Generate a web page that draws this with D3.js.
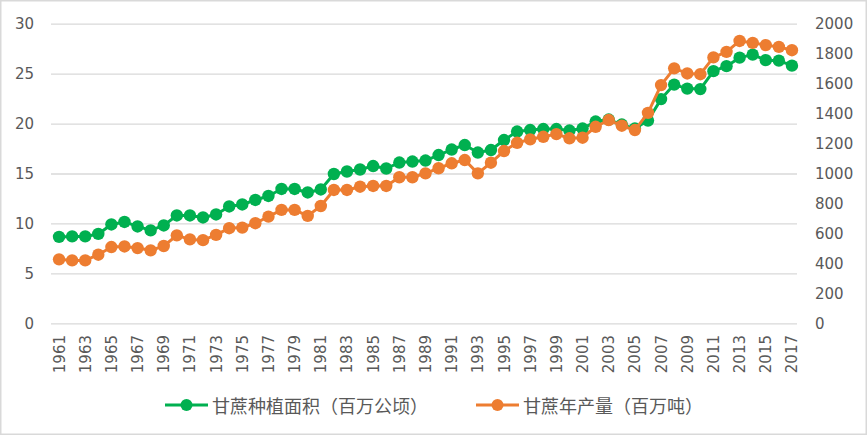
<!DOCTYPE html>
<html>
<head>
<meta charset="utf-8">
<script src="https://cdn.jsdelivr.net/npm/d3@7"></script>
<style>
  body { margin: 0; background: #fff; }
  text { font-family: "DejaVu Sans", sans-serif; fill: #595959; }
  .leg { font-family: "Noto Sans CJK SC", sans-serif; }
</style>
</head>
<body>
<div id="chart"></div>
<script>
// annees 1961..2017
const years = d3.range(1961, 2018);
// superficie (millions ha), axe gauche
const area = [8.65, 8.7, 8.7, 8.95, 9.9, 10.15, 9.7, 9.3, 9.8, 10.8,
  10.8, 10.6, 10.9, 11.7, 11.9, 12.35, 12.75, 13.45, 13.45, 13.1,
  13.4, 14.95, 15.2, 15.4, 15.75, 15.5, 16.1, 16.2, 16.3, 16.85,
  17.4, 17.85, 17.1, 17.35, 18.35, 19.2, 19.35, 19.45, 19.45, 19.3,
  19.5, 20.2, 20.4, 19.9, 19.5, 20.3, 22.45, 23.9, 23.5, 23.45,
  25.25, 25.75, 26.6, 26.9, 26.35, 26.3, 25.8];
// production (millions t), axe droit
const prod = [427, 420, 420, 458, 509, 513, 502, 487, 516, 587,
  560, 555, 590, 635, 639, 668, 712, 757, 757, 717,
  783, 890, 890, 912, 917, 917, 975, 975, 1001, 1035,
  1068, 1090, 1001, 1072, 1150, 1205, 1228, 1245, 1263, 1235,
  1239, 1312, 1357, 1319, 1290, 1405, 1590, 1702, 1668, 1663,
  1775, 1812, 1885, 1872, 1857, 1845, 1823];
const leftTicks = [0, 5, 10, 15, 20, 25, 30];
const rightTicks = d3.range(0, 2001, 200);
const names = ["甘蔗种植面积（百万公顷）", "甘蔗年产量（百万吨）"];
const colors = ["#00B050", "#ED7D31"];

const W = 867, H = 436;
const X0 = 51, X1 = 797, YT = 23.7, YB = 323.3;

const svg = d3.select("#chart").append("svg").attr("width", W).attr("height", H);

// bordure du graphique
svg.append("rect").attr("x", 0.75).attr("y", 0.75).attr("width", W - 1.5).attr("height", H - 2.5)
  .attr("fill", "#fff").attr("stroke", "#d9d9d9").attr("stroke-width", 1.5);

const x = d3.scaleBand().domain(years).range([X0 + 1.5, X1 + 1.5]);
const cx = d => x(d) + x.bandwidth() / 2;
const yL = d3.scaleLinear().domain([0, 30]).range([YB, YT]);
const yR = d3.scaleLinear().domain([0, 2000]).range([YB, YT]);

// grille
const grid = svg.append("g").attr("transform", "translate(" + X0 + ",0)")
  .call(d3.axisLeft(yL).tickValues(leftTicks).tickSize(-(X1 - X0)).tickFormat(""));
grid.select(".domain").remove();
grid.selectAll("line").attr("stroke", "#d9d9d9").attr("stroke-width", 1.3);

// axe gauche
const gl = svg.append("g").attr("transform", "translate(34,0)")
  .call(d3.axisLeft(yL).tickValues(leftTicks).tickSize(0).tickPadding(0));
gl.select(".domain").remove();
gl.selectAll("text").style("font-size", "15px").attr("fill", "#595959");

// axe droit
const gr = svg.append("g").attr("transform", "translate(815,0)")
  .call(d3.axisRight(yR).tickValues(rightTicks).tickFormat(d3.format("d")).tickSize(0).tickPadding(0));
gr.select(".domain").remove();
gr.selectAll("text").style("font-size", "15px").attr("fill", "#595959");

// axe des annees
const gx = svg.append("g").attr("transform", "translate(0,335)")
  .call(d3.axisBottom(x).tickValues(years.filter(d => d % 2 === 1)).tickSize(0).tickPadding(0));
gx.select(".domain").remove();
gx.selectAll("text").style("font-size", "15px").attr("fill", "#595959")
  .attr("text-anchor", "end").attr("dy", null).attr("y", 0)
  .attr("dominant-baseline", "central")
  .attr("transform", "translate(0.5,0) rotate(-90)");

// series
function serie(vals, y, col) {
  const line = d3.line().x((d, i) => cx(years[i])).y(d => y(d));
  svg.append("path").datum(vals).attr("d", line)
    .attr("fill", "none").attr("stroke", col).attr("stroke-width", 3).attr("stroke-linejoin", "round");
  svg.append("g").selectAll("circle").data(vals).join("circle")
    .attr("cx", (d, i) => cx(years[i])).attr("cy", d => y(d)).attr("r", 6.2)
    .attr("fill", col);
}
serie(area, yL, colors[0]);
serie(prod, yR, colors[1]);

// legende
const legX = [165, 476];
const leg = svg.append("g");
names.forEach((n, i) => {
  const g = leg.append("g").attr("transform", "translate(" + legX[i] + ",405)");
  g.append("line").attr("x1", 0).attr("x2", 43).attr("stroke", colors[i]).attr("stroke-width", 3);
  g.append("circle").attr("cx", 21.5).attr("r", 6).attr("fill", colors[i]);
  g.append("text").attr("class", "leg").attr("x", 47).attr("dominant-baseline", "central")
    .style("font-size", "18px").text(n);
});
</script>
</body>
</html>
